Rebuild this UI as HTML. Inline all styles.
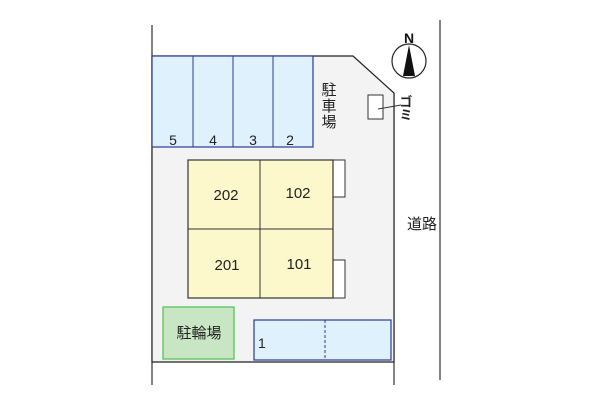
<html><head><style>body{margin:0;background:#fff;}svg{display:block}</style></head><body>
<svg width="600" height="400" xmlns="http://www.w3.org/2000/svg" font-family="Liberation Sans, Noto Sans CJK JP, sans-serif">
<line x1="152" y1="25" x2="152" y2="385" stroke="#333" stroke-width="1.2"/>
<line x1="394" y1="93" x2="394" y2="385" stroke="#333" stroke-width="1.2"/>
<line x1="440" y1="20" x2="440" y2="380" stroke="#333" stroke-width="1.2"/>
<polygon points="152,56 353,56 394,93 394,362 152,362" fill="#f3f3f3" stroke="#222" stroke-width="1.2"/>
<rect x="152" y="56" width="161" height="91" fill="#dff1fc" stroke="#2a3a9a" stroke-width="1.2"/>
<g stroke="#2a3a9a" stroke-width="1"><line x1="193" y1="56" x2="193" y2="147"/><line x1="233" y1="56" x2="233" y2="147"/><line x1="273" y1="56" x2="273" y2="147"/></g>
<g font-size="14" fill="#222" text-anchor="middle"><text x="173" y="145">5</text><text x="213" y="145">4</text><text x="253" y="145">3</text><text x="290" y="145">2</text></g>
<g font-size="15" fill="#222" text-anchor="middle"><text x="329" y="95">駐</text><text x="329" y="111">車</text><text x="329" y="127">場</text></g>
<rect x="333" y="160" width="12" height="37" fill="#fff" stroke="#333"/>
<rect x="333" y="260" width="12" height="38" fill="#fff" stroke="#333"/>
<rect x="188" y="160" width="145" height="138" fill="#fdf7cc" stroke="#333" stroke-width="1.2"/>
<line x1="260" y1="160" x2="260" y2="298" stroke="#333"/>
<line x1="188" y1="229" x2="333" y2="229" stroke="#333"/>
<g font-size="15" fill="#222" text-anchor="middle"><text x="226" y="200">202</text><text x="298" y="198">102</text><text x="227" y="270">201</text><text x="299" y="269">101</text></g>
<rect x="163" y="307" width="71" height="52" fill="#c8e6c4" stroke="#4cc04c" stroke-width="1.2"/>
<text x="199" y="338" font-size="15" fill="#222" text-anchor="middle">駐輪場</text>
<rect x="254" y="320" width="137" height="40" fill="#dff1fc" stroke="#2a3a9a" stroke-width="1.2"/>
<line x1="325" y1="320" x2="325" y2="360" stroke="#2a3a9a" stroke-dasharray="3,2"/>
<text x="258" y="348" font-size="14" fill="#222">1</text>
<rect x="368" y="95" width="15" height="24" fill="#fff" stroke="#333"/>
<line x1="378" y1="109" x2="401" y2="105" stroke="#333"/>
<text x="405" y="95" font-size="13" font-weight="bold" fill="#222" style="writing-mode:vertical-rl">ゴミ</text>
<text x="422" y="229" font-size="15" fill="#222" text-anchor="middle">道路</text>
<circle cx="409" cy="61" r="17" fill="#fff" stroke="#222" stroke-width="1.2"/>
<polygon points="409,45 403,76 415,76" fill="#111"/>
<text x="409" y="43" font-size="14" font-weight="bold" fill="#111" text-anchor="middle">N</text>
</svg></body></html>
